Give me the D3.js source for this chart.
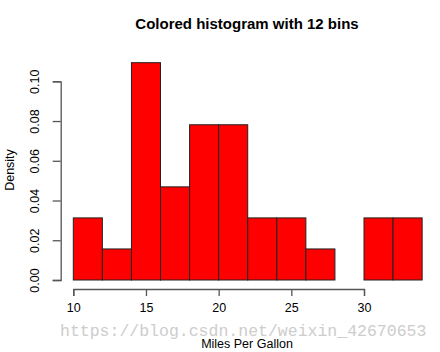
<!DOCTYPE html>
<html>
<head>
<meta charset="utf-8">
<script src="https://cdn.jsdelivr.net/npm/d3@7"></script>
<style>
  body { margin: 0; background: white; }
  text { font-family: "Liberation Sans", Arial, sans-serif; }
</style>
</head>
<body>
<div id="container"></div>
<script>
// bins of mpg (width 2) and densities
const binStarts = [10, 12, 14, 16, 18, 20, 22, 24, 26, 28, 30, 32];
const densities = [0.03125, 0.015625, 0.109375, 0.046875, 0.078125, 0.078125,
                   0.03125, 0.03125, 0.015625, 0, 0.03125, 0.03125];
const xTicks = [10, 15, 20, 25, 30];
const yTicks = [0, 0.02, 0.04, 0.06, 0.08, 0.10];

let w = 440;
let h = 352;

let svg = d3.select("#container").append("svg")
    .attr("width", w)
    .attr("height", h);

let x = d3.scaleLinear().domain([10, 30]).range([73.3, 364]);
let y = d3.scaleLinear().domain([0, 0.10]).range([280, 81.3]);

// bars
svg.selectAll(".bar").data(binStarts).enter()
  .append("rect")
    .attr("class", "bar")
    .attr("x", d => x(d))
    .attr("width", d => x(d + 2) - x(d))
    .attr("y", (d, i) => y(densities[i]))
    .attr("height", (d, i) => y(0) - y(densities[i]))
    .attr("fill", "#ff0000")
    .attr("stroke", "#222")
    .attr("stroke-width", 1);

// x axis
let xAxis = svg.append("g")
    .attr("transform", "translate(0,289)")
    .call(d3.axisBottom(x).tickValues(xTicks).tickSize(7).tickPadding(7).tickFormat(d3.format("d")));

// y axis
let yAxis = svg.append("g")
    .attr("transform", "translate(60.7,0)")
    .call(d3.axisLeft(y).tickValues(yTicks).tickSize(8).tickFormat(d3.format(".2f")));

[xAxis, yAxis].forEach(a => {
  a.select(".domain").attr("stroke", "#555").attr("stroke-width", 1.3);
  a.selectAll(".tick line").attr("stroke", "#555").attr("stroke-width", 1.3);
  a.selectAll("text").style("font-size", "12.5px").attr("fill", "#000")
    .style("font-family", "Liberation Sans, Arial, sans-serif");
});

yAxis.selectAll(".tick text")
    .attr("transform", "rotate(-90)")
    .attr("x", 0)
    .attr("y", -22)
    .attr("dy", "0")
    .attr("text-anchor", "middle");

// title
svg.append("text")
    .attr("x", 247)
    .attr("y", 29)
    .attr("text-anchor", "middle")
    .style("font-size", "15px")
    .style("font-weight", "bold")
    .text("Colored histogram with 12 bins");

// axis labels
svg.append("text")
    .attr("x", 247)
    .attr("y", 348)
    .attr("text-anchor", "middle")
    .style("font-size", "12.5px")
    .text("Miles Per Gallon");

svg.append("text")
    .attr("transform", "translate(14,170) rotate(-90)")
    .attr("text-anchor", "middle")
    .style("font-size", "12.5px")
    .text("Density");

// watermark
svg.append("text")
    .attr("x", 60)
    .attr("y", 336)
    .style("font-family", "Liberation Mono, DejaVu Sans Mono, monospace")
    .style("font-size", "16.5px")
    .attr("fill", "#c8c8c8")
    .attr("opacity", 0.9)
    .text("https://blog.csdn.net/weixin_42670653");
</script>
</body>
</html>
